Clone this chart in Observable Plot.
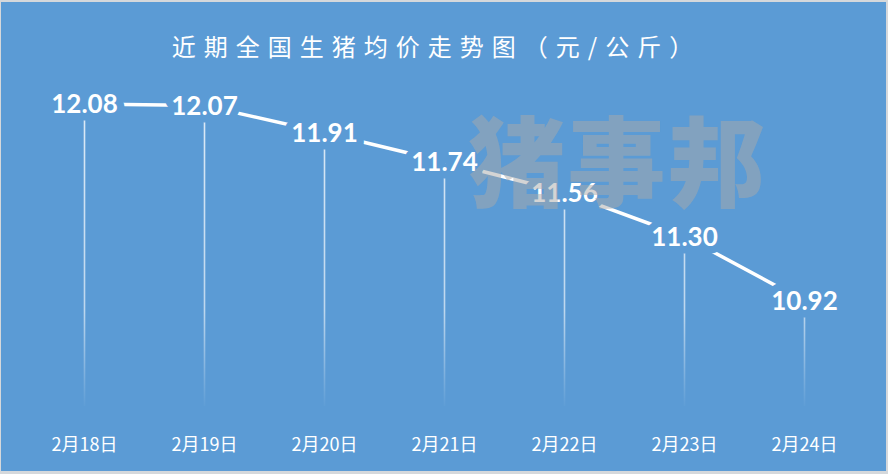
<!DOCTYPE html>
<html>
<head>
<meta charset="utf-8">
<script src="https://cdn.jsdelivr.net/npm/d3@7"></script>
<script src="https://cdn.jsdelivr.net/npm/@observablehq/plot@0.6"></script>
<style>
  html, body { margin: 0; padding: 0; background: #d5d8db; }
  #chart svg { display: block; background: #5b9bd5 !important;
    box-shadow: inset 1px 2px 0 #d5d8db, inset -2px -3px 0 #d5d8db; }
</style>
</head>
<body>
<div id="chart"></div>
<script>
const dates = ["2月18日", "2月19日", "2月20日", "2月21日", "2月22日", "2月23日", "2月24日"];
const prices = [12.08, 12.07, 11.91, 11.74, 11.56, 11.30, 10.92];
const title = "近期全国生猪均价走势图（元/公斤）";
const watermark = "猪事邦";

const data = dates.map((d, i) => ({date: d, price: prices[i], label: prices[i].toFixed(2)}));
const bg = "#5b9bd5";
const yMin = 10.30;

const chart = Plot.plot({
  width: 888,
  height: 474,
  marginLeft: 24,
  marginRight: 24,
  marginTop: 100,
  marginBottom: 68,
  style: {background: bg, overflow: "visible"},
  x: {type: "point", domain: dates, padding: 0.5, axis: null},
  y: {domain: [yMin, 12.10], axis: null},
  marks: [
    Plot.ruleX(data, {x: "date", y1: "price", y2: yMin, stroke: "url(#dropGrad)", strokeWidth: 1.6}),
    Plot.line(data, {x: "date", y: "price", stroke: "white", strokeWidth: 3.5}),
    Plot.text(data, {x: "date", y: "price", text: "label", fill: "white", stroke: bg, strokeWidth: 15,
      fontSize: 26, fontWeight: "bold", dy: 1, fontFamily: "Lato, 'Liberation Sans', sans-serif"}),
    Plot.text(dates, {x: d => d, frameAnchor: "bottom", dy: 39, lineAnchor: "middle", fill: "white", fontSize: 18,
      fontFamily: "'Noto Sans CJK SC', sans-serif"}),
    Plot.text([title], {frameAnchor: "top", dy: -52, dx: -8, lineAnchor: "middle", textAnchor: "middle",
      fill: "white", fontSize: 24, fontFamily: "'Noto Sans CJK SC', sans-serif"}),
    Plot.text([watermark], {frameAnchor: "top-left", dx: 593, dy: 67, textAnchor: "middle", lineAnchor: "middle",
      fill: "#a9a9a9", fillOpacity: 0.5,
      fontSize: 98, fontWeight: 900, fontFamily: "'Noto Sans CJK SC', sans-serif"})
  ]
});

const svg = d3.select(chart);
const defs = svg.insert("defs", ":first-child");
const grad = defs.append("linearGradient").attr("id", "dropGrad")
  .attr("gradientUnits", "userSpaceOnUse").attr("x1", 0).attr("x2", 0).attr("y1", 100).attr("y2", 410);
grad.append("stop").attr("offset", 0).attr("stop-color", "white").attr("stop-opacity", 0.8);
grad.append("stop").attr("offset", 0.68).attr("stop-color", "white").attr("stop-opacity", 0.6);
grad.append("stop").attr("offset", 1).attr("stop-color", "white").attr("stop-opacity", 0);
svg.selectAll("text").filter(function() { return this.textContent === title; }).style("letter-spacing", "8px");
svg.selectAll("text").filter(function() { return this.textContent === watermark; }).style("letter-spacing", "2px");

document.getElementById("chart").append(chart);
</script>
</body>
</html>
